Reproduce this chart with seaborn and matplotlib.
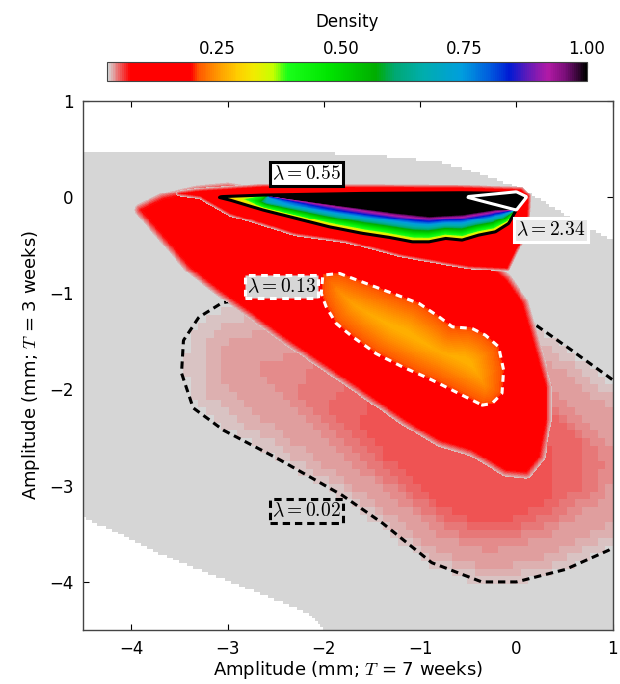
import numpy as np
import matplotlib
matplotlib.use("Agg")
import matplotlib.pyplot as plt
import seaborn as sns
from matplotlib.colors import LinearSegmentedColormap, Normalize
from matplotlib.path import Path
from matplotlib.cm import ScalarMappable

# ---------------- data ----------------
# region where the density is defined (grey)
support_x = [-4.6, -2.5, -1.5, -0.8, -0.3, 0.1, 0.5, 1.1, 1.1, -1.9, -2.18, -2.67, -3.57, -4.6]
support_y = [0.46, 0.46, 0.42, 0.35, 0.20, 0.04, -0.20, -0.53, -4.6, -4.6, -4.32, -4.12, -3.77, -3.28]

# lambda = 0.02 distribution outline (black dashed)
l002_x = [-3.06, -3.30, -3.46, -3.48, -3.36, -3.05, -2.46, -1.81, -1.39, -0.88, -0.36, 0.00, 0.51, 0.96,
          1.40, 1.60, 1.40, 1.00, 0.57, 0.13, -0.50, -1.50, -2.50]
l002_y = [-1.10, -1.25, -1.49, -1.83, -2.19, -2.42, -2.73, -3.10, -3.39, -3.80, -4.00, -4.00, -3.87, -3.67,
          -3.40, -2.80, -2.20, -1.90, -1.59, -1.28, -1.10, -1.00, -1.00]
l002_peak = [-0.70, -2.85]      # location of strongest pink
l002_amp = 0.030

# lambda = 0.13 distribution: outer red area and inner contour (white dashed)
l013_outer_x = [-3.90, -3.63, -3.39, -3.08, -2.74, -2.46, -1.80, -1.15, -0.80, -0.46, -0.11, 0.10, 0.23,
                0.30, 0.30, 0.16, 0.06, -0.11, -0.50, -1.50, -2.50, -3.00, -3.32, -3.67]
l013_outer_y = [-0.14, -0.45, -0.73, -0.97, -1.21, -1.42, -1.87, -2.32, -2.53, -2.63, -2.84, -2.86, -2.70,
                -2.32, -1.98, -1.46, -1.11, -0.87, -0.55, -0.30, 0.00, 0.08, 0.05, -0.03]
l013_x = [-2.012, -1.839, -1.563, -1.288, -1.012, -0.805, -0.667, -0.461, -0.322, -0.185, -0.133, -0.150,
          -0.254, -0.357, -0.529, -0.874, -1.185, -1.460, -1.702, -1.873, -1.977, -2.028]
l013_y = [-0.812, -0.794, -0.898, -1.002, -1.106, -1.245, -1.349, -1.366, -1.436, -1.557, -1.799, -2.042,
          -2.146, -2.163, -2.077, -1.903, -1.765, -1.626, -1.453, -1.314, -1.141, -1.002]

# lambda = 0.55 distribution: outer red band, contour (black), saturated core
l055_outer_x = [-3.50, -3.32, -2.64, -0.57, 0.05, 0.12, 0.10, -0.01, -0.10, -0.50, -1.20, -1.77, -2.29,
                -2.98, -3.28]
l055_outer_y = [0.03, 0.055, 0.10, 0.09, 0.07, 0.00, -0.38, -0.55, -0.74, -0.72, -0.60, -0.45, -0.38,
                -0.17, 0.00]
l055_x = [-3.114, -2.632, -1.598, -0.564, -0.012, -0.012, -0.081, -0.219, -0.392, -0.564, -0.736, -0.908,
          -1.081, -1.322, -1.598, -1.943, -2.287, -2.632, -2.977]
l055_y = [0.002, 0.020, 0.037, 0.044, 0.037, -0.154, -0.275, -0.362, -0.396, -0.448, -0.431, -0.466,
          -0.466, -0.420, -0.378, -0.310, -0.223, -0.136, -0.032]
l055_core_x = [-2.563, -2.200, -1.000, -0.530, 0.000, 0.108, 0.000, -0.219, -0.564, -0.908, -1.253, -1.943]
l055_core_y = [0.000, 0.035, 0.040, 0.020, 0.054, 0.000, -0.136, -0.136, -0.188, -0.206, -0.171, -0.084]

# lambda = 2.34 contour (white)
l234_x = [-0.529, 0.000, 0.108, 0.000]
l234_y = [0.002, 0.054, 0.002, -0.136]

lambda_labels = ["0.02", "0.13", "0.55", "2.34"]
label_x = [-2.18, -2.44, -2.18, 0.356]
label_y = [-3.26, -0.93, 0.24, -0.345]

cbar_ticks = [0.25, 0.50, 0.75, 1.00]
axis_ticks = [-4, -3, -2, -1, 0, 1]

# ---------------- helpers ----------------
def signed_dist(px, py, X, Y):
    px = np.asarray(px, float)
    py = np.asarray(py, float)
    P = np.column_stack([X.ravel(), Y.ravel()])
    d = np.full(P.shape[0], np.inf)
    for a, b, c, e in zip(px, py, np.roll(px, -1), np.roll(py, -1)):
        dx, dy = c - a, e - b
        L2 = dx * dx + dy * dy
        t = np.clip(((P[:, 0] - a) * dx + (P[:, 1] - b) * dy) / L2, 0, 1)
        d = np.minimum(d, np.hypot(P[:, 0] - (a + t * dx), P[:, 1] - (b + t * dy)))
    inside = Path(np.column_stack([px, py])).contains_points(P)
    return np.where(inside, d, -d).reshape(X.shape)


def grid(step):
    c = np.arange(-4.5 + step / 2, 1.0, step)
    return np.meshgrid(c, c)


sns.set_style("white")
plt.rcParams["mathtext.fontset"] = "cm"
plt.rcParams["font.family"] = ["DejaVu Sans"]
plt.rcParams["text.color"] = "black"
plt.rcParams["axes.labelcolor"] = "black"
plt.rcParams["xtick.color"] = "black"
plt.rcParams["ytick.color"] = "black"

VMIN, VMAX = 0.025, 1.0
stops = [
    (0.000, (0.84, 0.84, 0.84)), (0.045, (1.0, 0.0, 0.0)), (0.175, (1.0, 0.0, 0.0)),
    (0.190, (1.0, 0.35, 0.0)), (0.230, (1.0, 0.60, 0.0)), (0.270, (1.0, 0.80, 0.0)),
    (0.305, (0.95, 0.92, 0.0)), (0.345, (0.78, 1.0, 0.0)), (0.375, (0.1, 1.0, 0.1)),
    (0.460, (0.0, 0.90, 0.0)), (0.560, (0.0, 0.68, 0.0)), (0.600, (0.0, 0.66, 0.45)),
    (0.660, (0.0, 0.68, 0.68)), (0.740, (0.0, 0.62, 0.87)), (0.800, (0.0, 0.35, 0.87)),
    (0.840, (0.0, 0.10, 0.83)), (0.880, (0.40, 0.10, 0.72)), (0.920, (0.70, 0.10, 0.65)),
    (0.960, (0.45, 0.05, 0.45)), (1.000, (0.0, 0.0, 0.0)),
]
cmap = LinearSegmentedColormap.from_list("dens", stops)
cmap.set_over("black")
cmap.set_bad((1, 1, 1, 0))
norm = Normalize(VMIN, VMAX)
ext = (-4.5, 1.0, -4.5, 1.0)

fig = plt.figure(figsize=(6.2, 6.84), dpi=100)
ax = fig.add_axes([0.1334, 0.0789, 0.8558, 0.7738])

# ---- grey support ----
Xs, Ys = grid(0.03)
sd_sup = signed_dist(support_x, support_y, Xs, Ys)
base = np.ma.masked_where(sd_sup < 0, np.full(Xs.shape, VMIN))
ax.imshow(base, extent=ext, origin="lower", cmap=cmap, norm=norm, interpolation="nearest", zorder=1)

# ---- lambda 0.02 layer (coarse, pink) ----
Xc, Yc = grid(0.08)
sd1c = signed_dist(l002_x, l002_y, Xc, Yc)
dist_peak = np.hypot(Xc - l002_peak[0], Yc - l002_peak[1])
depth = np.clip((sd1c + 0.08) / 0.8, 0, 1) ** 0.8
weight = 0.4 + 0.6 * np.exp(-0.5 * (dist_peak / 1.2) ** 2)
level = np.ceil(depth * weight * 10) / 10
pink = VMIN + l002_amp * level
sdsc = signed_dist(support_x, support_y, Xc, Yc)
pink = np.ma.masked_where((level <= 0) | (sdsc < 0), pink)
ax.imshow(pink, extent=ext, origin="lower", cmap=cmap, norm=norm, interpolation="nearest", zorder=2)

Xf, Yf = grid(0.01)
sd1 = signed_dist(l002_x, l002_y, Xf, Yf)
ax.contour(Xf, Yf, sd1, levels=[0], colors="black", linewidths=2.2,
           linestyles=[(0, (2.4, 1.6))], zorder=3)

# ---- lambda 0.13 layer ----
d_o = signed_dist(l013_outer_x, l013_outer_y, Xf, Yf)
d_b = signed_dist(l013_x, l013_y, Xf, Yf)
t = np.clip(d_o / np.maximum(d_o - d_b, 1e-6), 0, 1)
v2 = np.where(d_o < 0, 0.07 + 0.6 * d_o,
              np.where(d_b < 0, 0.07 + 0.125 * t, 0.205 + 0.06 * np.clip(d_b / 0.3, 0, 1)))
v2 = np.ma.masked_where(v2 < 0.03, v2)
ax.imshow(v2, extent=ext, origin="lower", cmap=cmap, norm=norm, interpolation="nearest", zorder=4)
ax.contour(Xf, Yf, d_b, levels=[0], colors="white", linewidths=2.2,
           linestyles=[(0, (2.2, 1.8))], zorder=5)

# ---- lambda 0.55 layer ----
d3o = signed_dist(l055_outer_x, l055_outer_y, Xf, Yf)
d3c = signed_dist(l055_x, l055_y, Xf, Yf)
d3k = signed_dist(l055_core_x, l055_core_y, Xf, Yf)
t_o = np.clip(d3o / np.maximum(d3o - d3c, 1e-6), 0, 1)
t_c = np.clip(d3c / np.maximum(d3c - d3k, 1e-6), 0, 1)
v3 = np.where(d3k >= 0, 1.1,
              np.where(d3c >= 0, 0.27 + 0.73 * t_c,
                       np.where(d3o >= 0, 0.07 + 0.12 * t_o, 0.07 + 1.2 * d3o)))
v3 = np.ma.masked_where(v3 < 0.03, v3)
ax.imshow(v3, extent=ext, origin="lower", cmap=cmap, norm=norm, interpolation="nearest", zorder=6)
ax.contour(Xf, Yf, d3c, levels=[0], colors="black", linewidths=2.2, zorder=7)

d4 = signed_dist(l234_x, l234_y, Xf, Yf)
ax.contour(Xf, Yf, d4, levels=[0], colors="white", linewidths=2.2, zorder=8)

# ---- labels ----
boxes = [
    dict(boxstyle="square,pad=0.12", fc=(0.84, 0.84, 0.84), ec="black", lw=2.2, ls=(0, (2.4, 1.6))),
    dict(boxstyle="square,pad=0.12", fc=(0.84, 0.84, 0.84), ec="white", lw=2.2, ls=(0, (2.2, 1.8))),
    dict(boxstyle="square,pad=0.12", fc="white", ec="black", lw=2.2),
    dict(boxstyle="square,pad=0.12", fc=(0.91, 0.91, 0.91), ec="white", lw=2.2),
]
for lab, lx, ly, bb in zip(lambda_labels, label_x, label_y, boxes):
    ax.text(lx, ly, r"$\lambda=" + lab + "$", fontsize=14, ha="center", va="center",
            color="black", bbox=bb, zorder=10)

ax.set_xlim(-4.5, 1.0)
ax.set_ylim(-4.5, 1.0)
ax.set_xticks(axis_ticks)
ax.set_yticks(axis_ticks)
ax.set_xticklabels([f"{t}".replace("-", "\u2212") for t in axis_ticks])
ax.set_yticklabels([f"{t}".replace("-", "\u2212") for t in axis_ticks])
ax.tick_params(direction="in", top=True, right=True, bottom=True, left=True,
               length=4, width=0.8, labelsize=12, pad=7, colors="black")
for s in ax.spines.values():
    s.set_color("#444444")
    s.set_linewidth(1.0)
ax.set_xlabel(r"Amplitude (mm; $T$ = 7 weeks)", fontsize=13, labelpad=1)
ax.set_ylabel(r"Amplitude (mm; $T$ = 3 weeks)", fontsize=13, labelpad=5)

# ---- colorbar ----
cax = fig.add_axes([107 / 620, 1 - 81 / 684, 480 / 620, 19 / 684])
cb = fig.colorbar(ScalarMappable(norm=norm, cmap=cmap), cax=cax, orientation="horizontal",
                  ticks=cbar_ticks)
cax.xaxis.set_ticks_position("top")
cax.xaxis.set_label_position("top")
cb.set_ticklabels([f"{t:.2f}" for t in cbar_ticks])
cax.tick_params(direction="in", top=True, bottom=False, length=4, width=0.8, labelsize=12, pad=3,
                colors="black")
cb.outline.set_edgecolor("#444444")
cb.set_label("Density", fontsize=12, labelpad=9)

fig.savefig("out.png", dpi=100)
